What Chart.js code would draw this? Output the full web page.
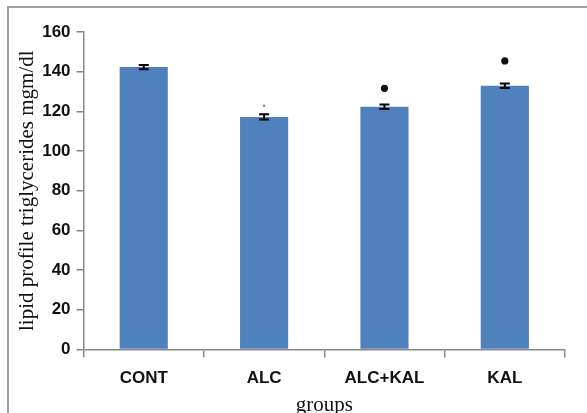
<!DOCTYPE html>
<html lang="en">
<head>
    <meta charset="UTF-8">
    <title>Lipid profile triglycerides</title>
    <script src="https://cdn.jsdelivr.net/npm/chart.js"></script>
    <style>
        html, body { margin: 0; padding: 0; background: #fff; }
        #wrap { position: relative; width: 587px; height: 413px; overflow: hidden; }
        #frame { position: absolute; left: 7px; top: 6px; width: 600px; height: 420px;
                 border-left: 2px solid #a0a0a0; border-top: 2px solid #a0a0a0; }
        canvas { position: absolute; left: 0; top: 0; }
    </style>
</head>
<body>
<div id="wrap">
    <div id="frame"></div>
    <canvas id="chart" width="587" height="418"></canvas>
</div>
<script>
// groups and mean triglycerides (mgm/dl)
const groups = ['CONT', 'ALC', 'ALC+KAL', 'KAL'];
const means = [142.3, 117.2, 122.3, 132.9];
const errors = [1.1, 1.3, 1.1, 1.1];
// significance markers (y position in data units, null = none)
const starValues = [null, 122.8, 131.6, 145.4];
const yTicks = [0, 20, 40, 60, 80, 100, 120, 140, 160];

// draws error bars for the bar dataset
const errorBars = {
    id: 'errorBars',
    afterDatasetsDraw(chart) {
        const ctx = chart.ctx;
        const meta = chart.getDatasetMeta(0);
        const y = chart.scales.y;
        ctx.save();
        ctx.strokeStyle = '#000';
        ctx.lineWidth = 2;
        meta.data.forEach((bar, i) => {
            const top = y.getPixelForValue(means[i] + errors[i]);
            const bot = y.getPixelForValue(means[i] - errors[i]);
            ctx.beginPath();
            ctx.moveTo(bar.x, top); ctx.lineTo(bar.x, bot);
            ctx.moveTo(bar.x - 5, top); ctx.lineTo(bar.x + 5, top);
            ctx.moveTo(bar.x - 5, bot); ctx.lineTo(bar.x + 5, bot);
            ctx.stroke();
        });
        ctx.restore();
    }
};

new Chart(document.getElementById('chart'), {
    type: 'bar',
    data: {
        labels: groups,
        datasets: [
            {
                data: means,
                backgroundColor: '#4f81bd',
                borderColor: '#4f81bd',
                borderWidth: 0,
                categoryPercentage: 1.0,
                barPercentage: 0.4,
                order: 2
            },
            {
                type: 'line',
                data: starValues,
                showLine: false,
                pointRadius: [0, 1.2, 3.6, 3.6],
                pointBackgroundColor: ['#000', '#c07070', '#111', '#111'],
                pointBorderWidth: 0,
                order: 1
            }
        ]
    },
    options: {
        responsive: false,
        animation: false,
        layout: { padding: { top: 32, right: 22, bottom: 0, left: 15 } },
        plugins: { legend: { display: false }, tooltip: { enabled: false } },
        scales: {
            x: {
                grid: { offset: true, drawOnChartArea: false, tickLength: 8, color: '#888', lineWidth: 1.5 },
                border: { color: '#888', width: 1.5 },
                ticks: { color: '#111', font: { family: 'Liberation Sans', size: 17, weight: 'bold' }, padding: 11 },
                title: { display: true, text: 'groups', color: '#111',
                         font: { family: 'Liberation Serif', size: 21 }, padding: { top: -7, bottom: 0 } }
            },
            y: {
                min: 0, max: 160,
                afterBuildTicks(axis) { axis.ticks = yTicks.map(v => ({ value: v })); },
                grid: { drawOnChartArea: false, tickLength: 7, color: '#888', lineWidth: 1.5 },
                border: { color: '#888', width: 1.5 },
                ticks: { color: '#111', font: { family: 'Liberation Sans', size: 17, weight: 'bold' }, padding: 6 },
                title: { display: true, text: 'lipid profile triglycerides mgm/dl', color: '#111',
                         font: { family: 'Liberation Serif', size: 21 }, padding: { top: 0, bottom: -4 } }
            }
        }
    },
    plugins: [errorBars]
});
</script>
</body>
</html>
